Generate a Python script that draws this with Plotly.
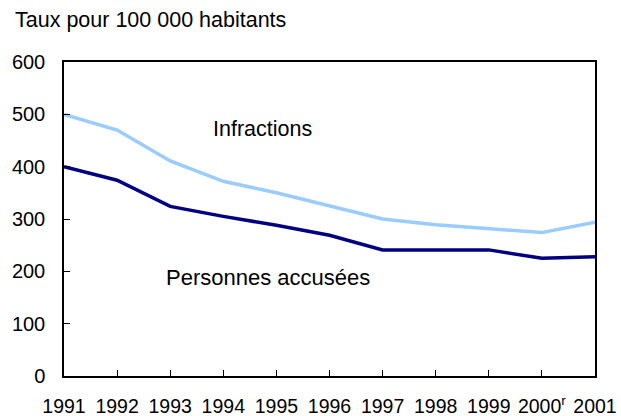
import plotly.graph_objects as go

years = [1991, 1992, 1993, 1994, 1995, 1996, 1997, 1998, 1999, 2000, 2001]
tick_labels = ["1991", "1992", "1993", "1994", "1995", "1996", "1997", "1998", "1999", "2000<sup>r</sup>", "2001"]
infractions = [500, 470, 411, 372, 350, 325, 300, 289, 281, 274, 294]
personnes_accusees = [400, 374, 324, 305, 288, 269, 241, 241, 241, 225, 228]

FONT = "Liberation Sans, Arial, sans-serif"

fig = go.Figure()
fig.add_trace(go.Scatter(x=years, y=infractions, mode="lines",
                         line=dict(color="#99CCFF", width=3.5), name="Infractions"))
fig.add_trace(go.Scatter(x=years, y=personnes_accusees, mode="lines",
                         line=dict(color="#000080", width=3.5), name="Personnes accusées"))

fig.add_annotation(x=1994.74, y=472, text="Infractions", showarrow=False,
                   font=dict(family=FONT, size=21.5, color="black"))
fig.add_annotation(x=1994.84, y=189, text="Personnes accusées", showarrow=False,
                   font=dict(family=FONT, size=22, color="black"))
fig.add_annotation(xref="paper", yref="paper", x=-0.096, y=1.134, xanchor="left", yanchor="middle",
                   text="Taux pour 100 000 habitants", showarrow=False,
                   font=dict(family=FONT, size=21.5, color="black"))

fig.update_layout(
    width=621, height=416,
    margin=dict(l=64, r=26, t=62, b=40),
    plot_bgcolor="white", paper_bgcolor="white",
    showlegend=False,
    font=dict(family=FONT, color="black"),
)
fig.update_xaxes(range=[1991, 2001], tickvals=years, ticktext=tick_labels, automargin=False,
                 showgrid=False, zeroline=False, showline=True, linecolor="black", linewidth=1.5,
                 mirror=True, ticks="inside", ticklen=6, tickcolor="black",
                 tickfont=dict(family=FONT, size=19.5), ticklabelstandoff=12)
fig.update_yaxes(range=[0, 600], tickvals=[0, 100, 200, 300, 400, 500, 600], automargin=False,
                 showgrid=False, zeroline=False, showline=True, linecolor="black", linewidth=1.5,
                 mirror=True, ticks="inside", ticklen=6, tickcolor="black",
                 tickfont=dict(family=FONT, size=20), ticklabelstandoff=13)

fig.write_html("out.html", config={"displayModeBar": False},
               post_script="document.body.style.margin='0';document.body.style.overflow='hidden';")
